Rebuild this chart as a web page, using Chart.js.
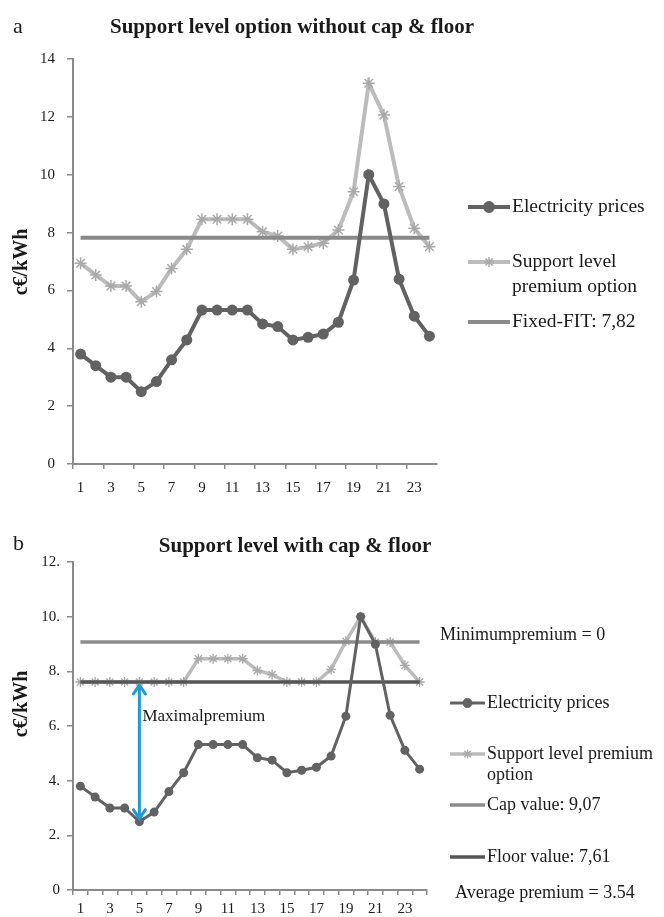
<!DOCTYPE html>
<html>
<head>
<meta charset="utf-8">
<script src="https://cdn.jsdelivr.net/npm/chart.js@4.4.1/dist/chart.umd.min.js"></script>
<style>
  html, body { margin: 0; padding: 0; background: #fff; }
  #wrap { position: relative; width: 664px; height: 917px; }
  canvas { position: absolute; left: 0; }
</style>
</head>
<body>
<div id="wrap">
  <canvas id="chartA" width="664" height="500" style="top:0"></canvas>
  <canvas id="chartB" width="664" height="417" style="top:500px"></canvas>
</div>
<script>
// hours of the day (category axis)
const hours = ['1','2','3','4','5','6','7','8','9','10','11','12','13','14','15','16','17','18','19','20','21','22','23','24'];

// electricity prices, c€/kWh (same in both panels)
const electricityPrices = [3.8,3.4,3.0,3.0,2.5,2.85,3.6,4.29,5.32,5.32,5.32,5.32,4.84,4.75,4.29,4.38,4.49,4.9,6.36,10.0,8.99,6.39,5.11,4.42];

// panel a : support level premium option, no cap & floor
const supportNoCap = [6.94,6.53,6.15,6.15,5.61,5.96,6.76,7.42,8.46,8.46,8.46,8.46,8.03,7.88,7.42,7.51,7.63,8.09,9.41,13.16,12.06,9.59,8.15,7.51];
const fixedFit = 7.82;

// panel b : support level with cap & floor
const supportCapFloor = [7.61,7.61,7.61,7.61,7.61,7.61,7.61,7.61,8.46,8.46,8.46,8.46,8.03,7.88,7.61,7.61,7.61,8.07,9.1,10.0,9.07,9.07,8.22,7.61];
const capValue = 9.07;
const floorValue = 7.61;
const maxPremiumHour = '5';

const SERIF = "'Liberation Serif', 'DejaVu Serif', serif";

// draws panel letter, title, axis title, legend, notes, arrow
const decor = {
  id: 'decor',
  afterDraw(chart, args, opts) {
    const ctx = chart.ctx;
    ctx.save();
    ctx.fillStyle = '#1a1a1a';
    ctx.textBaseline = 'alphabetic';
    ctx.textAlign = 'left';
    ctx.font = '22px ' + SERIF;
    ctx.fillText(opts.letter, 13, opts.letterY);

    ctx.textAlign = 'center';
    ctx.font = 'bold 21px ' + SERIF;
    ctx.fillText(opts.title, opts.titleX, opts.titleY);

    // y axis title
    ctx.save();
    ctx.translate(27, opts.axisTitleY);
    ctx.rotate(-Math.PI / 2);
    ctx.font = 'bold 20px ' + SERIF;
    ctx.fillText('c€/kWh', 0, 0);
    ctx.restore();

    // legend
    ctx.textAlign = 'left';
    ctx.textBaseline = 'middle';
    opts.legend.forEach(item => {
      const ds = chart.data.datasets[item.ds];
      ctx.strokeStyle = ds.borderColor;
      ctx.lineWidth = ds.borderWidth;
      ctx.beginPath();
      ctx.moveTo(item.x1, item.y);
      ctx.lineTo(item.x2, item.y);
      ctx.stroke();
      if (item.r > 0) {
        ctx.fillStyle = ds.pointBackgroundColor;
        ctx.strokeStyle = ds.pointBorderColor;
        ctx.lineWidth = ds.pointBorderWidth || 1;
        Chart.helpers.drawPoint(ctx, {
          pointStyle: ds.pointStyle, rotation: 0,
          radius: item.r, borderWidth: ds.pointBorderWidth || 1
        }, (item.x1 + item.x2) / 2, item.y);
      }
      ctx.fillStyle = '#1a1a1a';
      ctx.font = opts.legendFont + 'px ' + SERIF;
      item.lines.forEach((t, i) => ctx.fillText(t, item.x2 + 2, item.y + i * item.gap));
    });

    (opts.notes || []).forEach(n => {
      ctx.font = n.size + 'px ' + SERIF;
      ctx.fillText(n.text, n.x, n.y);
    });

    if (opts.arrow) {
      const xs = chart.scales.x, ys = chart.scales.y;
      const x = xs.getPixelForValue(hours.indexOf(opts.arrow.at));
      const yTop = ys.getPixelForValue(opts.arrow.from) + 3;
      const yBot = ys.getPixelForValue(opts.arrow.to) - 3;
      ctx.strokeStyle = '#1f9ad6';
      ctx.lineWidth = 3;
      ctx.lineCap = 'round';
      ctx.beginPath();
      ctx.moveTo(x, yTop); ctx.lineTo(x, yBot);
      ctx.moveTo(x - 6, yTop + 9); ctx.lineTo(x, yTop); ctx.lineTo(x + 6, yTop + 9);
      ctx.moveTo(x - 6, yBot - 9); ctx.lineTo(x, yBot); ctx.lineTo(x + 6, yBot - 9);
      ctx.stroke();
      ctx.fillStyle = '#1a1a1a';
      ctx.font = '17px ' + SERIF;
      ctx.fillText(opts.arrow.label, x + 3, ys.getPixelForValue(opts.arrow.labelAt));
    }
    ctx.restore();
  }
};

function makeScales(yMax, yLabel, everyTick, yPad, xHeight, xPad) {
  return {
    x: {
      type: 'category',
      offset: true,
      afterFit: s => { s.height = xHeight; },
      grid: {
        offset: true, drawOnChartArea: false, tickLength: 5, lineWidth: 1.5,
        color: c => (everyTick || c.index % 2 === 0) ? '#8a8a8a' : 'rgba(0,0,0,0)'
      },
      border: { color: '#8a8a8a', width: 2 },
      ticks: {
        autoSkip: false, maxRotation: 0, padding: xPad,
        color: '#1a1a1a', font: { family: SERIF, size: 15 },
        callback: (v, i) => i % 2 === 0 ? hours[i] : ''
      }
    },
    y: {
      min: 0, max: yMax,
      afterFit: s => { s.width = 73; },
      grid: { drawOnChartArea: false, tickLength: 6, lineWidth: 1.5, color: '#8a8a8a' },
      border: { color: '#8a8a8a', width: 2 },
      ticks: {
        stepSize: 2, padding: yPad, color: '#1a1a1a',
        font: { family: SERIF, size: 15 },
        callback: yLabel
      }
    }
  };
}

// panel a
new Chart(document.getElementById('chartA'), {
  type: 'line',
  data: {
    labels: hours,
    datasets: [
      {
        label: 'Fixed-FIT: 7,82',
        data: [{ x: '1', y: fixedFit }, { x: '24', y: fixedFit }],
        borderColor: '#8a8a8a', borderWidth: 4, pointRadius: 0, order: 1
      },
      {
        label: 'Support level premium option',
        data: supportNoCap,
        borderColor: '#bcbcbc', borderWidth: 4,
        pointStyle: 'star', pointRadius: 6, pointBorderWidth: 1.5,
        pointBorderColor: '#a9a9a9', pointBackgroundColor: '#a9a9a9', order: 2
      },
      {
        label: 'Electricity prices',
        data: electricityPrices,
        borderColor: '#626262', borderWidth: 4,
        pointStyle: 'circle', pointRadius: 5.5, pointBorderWidth: 0,
        pointBackgroundColor: '#626262', pointBorderColor: '#626262', order: 0
      }
    ]
  },
  options: {
    responsive: false, animation: false,
    layout: { padding: { left: 0, right: 227, top: 59, bottom: 0 } },
    scales: makeScales(14, v => v, false, 12, 36, 10),
    plugins: {
      legend: { display: false }, tooltip: { enabled: false },
      decor: {
        letter: 'a', letterY: 33,
        title: 'Support level option without cap & floor', titleX: 292, titleY: 33,
        axisTitleY: 262, legendFont: 19.5,
        legend: [
          { ds: 2, x1: 468, x2: 510, y: 207, r: 5.5, lines: ['Electricity prices'], gap: 0 },
          { ds: 1, x1: 468, x2: 510, y: 262, r: 5, lines: ['Support level', 'premium option'], gap: 25 },
          { ds: 0, x1: 468, x2: 510, y: 322, r: 0, lines: ['Fixed-FIT: 7,82'], gap: 0 }
        ]
      }
    }
  },
  plugins: [decor]
});

// panel b
new Chart(document.getElementById('chartB'), {
  type: 'line',
  data: {
    labels: hours,
    datasets: [
      {
        label: 'Floor value: 7,61',
        data: [{ x: '1', y: floorValue }, { x: '24', y: floorValue }],
        borderColor: '#565656', borderWidth: 3.5, pointRadius: 0, order: 1
      },
      {
        label: 'Cap value: 9,07',
        data: [{ x: '1', y: capValue }, { x: '24', y: capValue }],
        borderColor: '#8c8c8c', borderWidth: 3.5, pointRadius: 0, order: 2
      },
      {
        label: 'Support level premium option',
        data: supportCapFloor,
        borderColor: '#bcbcbc', borderWidth: 3.5,
        pointStyle: 'star', pointRadius: 5, pointBorderWidth: 1.3,
        pointBorderColor: '#a9a9a9', pointBackgroundColor: '#a9a9a9', order: 3
      },
      {
        label: 'Electricity prices',
        data: electricityPrices,
        borderColor: '#626262', borderWidth: 3,
        pointStyle: 'circle', pointRadius: 4.5, pointBorderWidth: 0,
        pointBackgroundColor: '#626262', pointBorderColor: '#626262', order: 0
      }
    ]
  },
  options: {
    responsive: false, animation: false,
    layout: { padding: { left: 0, right: 237, top: 62, bottom: 0 } },
    scales: makeScales(12, v => v === 0 ? '0' : v + '.', true, 7, 27, 5),
    plugins: {
      legend: { display: false }, tooltip: { enabled: false },
      decor: {
        letter: 'b', letterY: 50,
        title: 'Support level with cap & floor', titleX: 295, titleY: 52,
        axisTitleY: 204, legendFont: 18,
        legend: [
          { ds: 3, x1: 450, x2: 485, y: 203, r: 4.5, lines: ['Electricity prices'], gap: 0 },
          { ds: 2, x1: 450, x2: 485, y: 254, r: 4.5, lines: ['Support level premium', 'option'], gap: 21 },
          { ds: 1, x1: 450, x2: 485, y: 305, r: 0, lines: ['Cap value: 9,07'], gap: 0 },
          { ds: 0, x1: 450, x2: 485, y: 357, r: 0, lines: ['Floor value: 7,61'], gap: 0 }
        ],
        notes: [
          { text: 'Minimumpremium = 0', x: 440, y: 135, size: 18 },
          { text: 'Average premium = 3.54', x: 455, y: 393, size: 18 }
        ],
        arrow: { at: maxPremiumHour, from: floorValue, to: electricityPrices[4], label: 'Maximalpremium', labelAt: 6.35 }
      }
    }
  },
  plugins: [decor]
});
</script>
</body>
</html>
